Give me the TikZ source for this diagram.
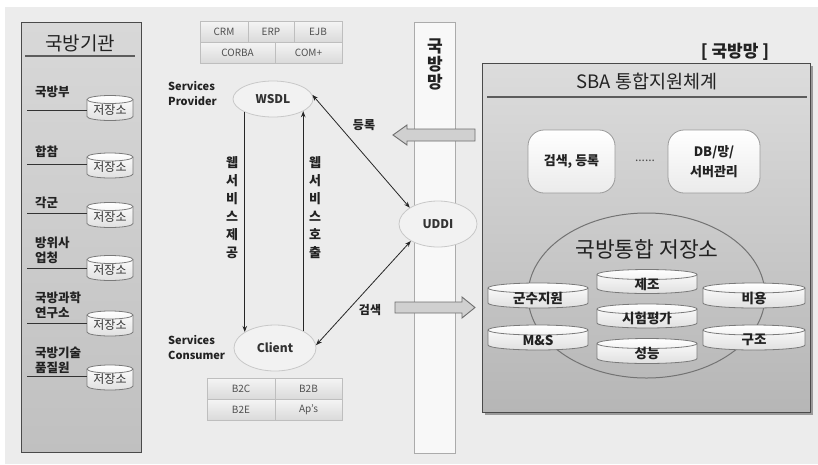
\documentclass[tikz,border=0pt]{standalone}
\usepackage{fontspec}
\setmainfont{Noto Sans CJK KR}
\usetikzlibrary{shapes.geometric,arrows.meta,calc}
\definecolor{bgc}{HTML}{ECECEC}
\definecolor{paneltop}{HTML}{D8D8D8}
\definecolor{panelbot}{HTML}{C0C0C0}
\definecolor{panelb}{HTML}{4A4A4A}
\definecolor{rpaneltop}{HTML}{DCDCDC}
\definecolor{rpanelbot}{HTML}{B6B6B6}
\definecolor{cellb}{HTML}{BEBEBE}
\definecolor{cellbot}{HTML}{DADADA}
\definecolor{celltext}{HTML}{505050}
\definecolor{ovalb}{HTML}{C8C8C8}
\definecolor{ovalf}{HTML}{F2F2F2}
\definecolor{cylb}{HTML}{7A7A7A}
\definecolor{cylbot}{HTML}{E0E0E0}
\definecolor{txt}{HTML}{222222}
\definecolor{barf}{HTML}{F8F8F8}
\definecolor{barb}{HTML}{ABABAB}
\definecolor{blkf}{HTML}{D0D0D0}
\definecolor{blkb}{HTML}{6E6E6E}
\definecolor{rboxb}{HTML}{9A9A9A}
\definecolor{shadowc}{HTML}{9A9A9A}

\newcommand{\dbcyl}[9]{%
  \pgfmathsetmacro\dbxl{#2-#4/2}%
  \pgfmathsetmacro\dbxr{#2+#4/2}%
  \pgfmathsetmacro\dbyt{#3-#5/2+#6}%
  \pgfmathsetmacro\dbyb{#3+#5/2-#6}%
  \pgfmathsetmacro\dbrx{#4/2}%
  \path[#7] (\dbxl,\dbyt) -- (\dbxl,\dbyb)
    arc[start angle=180,end angle=360,x radius=\dbrx pt,y radius=#6pt]
    -- (\dbxr,\dbyt)
    arc[start angle=0,end angle=180,x radius=\dbrx pt,y radius=#6pt] -- cycle;
  \draw[cyledge] (\dbxl,\dbyt) arc[start angle=180,end angle=360,x radius=\dbrx pt,y radius=#6pt];
  \node[inner sep=0pt,minimum width=#4,minimum height=#5] (#1) at (#2,#3) {};
  \node[#8] (#1t) at (#2,#3+#6/2) {#9};
}

\begin{document}
\begin{tikzpicture}[x=1pt,y=-1pt,
  panel/.style={draw=panelb,line width=1.2pt,top color=paneltop,bottom color=panelbot,inner sep=0pt,anchor=north west},
  rpanel/.style={draw=panelb,line width=1.3pt,top color=rpaneltop,bottom color=rpanelbot,inner sep=0pt,anchor=north west},
  uline/.style={draw=panelb!90,line width=1.4pt},
  lbl/.style={font=\bfseries\fontsize{12.5}{15}\selectfont,text=txt,inner sep=0pt,anchor=west,align=left},
  itemline/.style={draw=black!80,line width=1pt},
  lcyl/.style={draw=cylb,line width=0.8pt,top color=white,bottom color=cylbot},
  cyledge/.style={draw=cylb,line width=0.8pt},
  lcyltext/.style={font=\fontsize{12}{13}\selectfont,text=black!80,inner sep=0pt},
  rcyltext/.style={font=\bfseries\fontsize{13.5}{14}\selectfont,text=txt,inner sep=0pt},
  cell/.style={draw=cellb,line width=0.7pt,top color=white!96!black,bottom color=cellbot,font=\fontsize{10}{12}\selectfont,text=celltext,inner sep=0pt,minimum height=21},
  oval/.style={ellipse,draw=ovalb,line width=0.8pt,fill=ovalf,font=\bfseries\fontsize{12}{14}\selectfont,text=black!80,inner sep=0pt},
  arr/.style={draw=black!85,line width=0.8pt,-{Stealth[length=6pt,width=4.5pt]}},
  arrb/.style={draw=black!85,line width=0.8pt,{Stealth[length=6pt,width=4.5pt]}-{Stealth[length=6pt,width=4.5pt]}},
  vtxt/.style={font=\bfseries\fontsize{13}{18}\selectfont,text=txt,align=center,inner sep=0pt},
  side/.style={font=\bfseries\fontsize{11}{15}\selectfont,text=txt,align=left,inner sep=0pt,anchor=west},
  blk/.style={draw=blkb,line width=0.9pt,fill=blkf,line join=miter},
  rbox/.style={draw=rboxb,line width=0.8pt,rounded corners=16pt,top color=white,bottom color=black!8,font=\bfseries\fontsize{13}{20}\selectfont,text=txt,align=center,inner sep=0pt}
]
\useasboundingbox (0,0) rectangle (818,464);
\fill[white] (0,0) rectangle (818,464);
\fill[bgc] (5,7) rectangle (818,464);

% ---------- left panel ----------
\node[panel,minimum width=120,minimum height=430] (lp) at (21,22) {};
\node[font=\fontsize{19}{21}\selectfont,text=txt] (lptitle) at (80,43) {국방기관};
\coordinate (lu1) at (25,56);
\coordinate (lu2) at (135,56);
\draw[uline] (lu1) -- (lu2);

\node[lbl] (l1) at (35,92) {국방부};
\node[lbl] (l2) at (35,152) {합참};
\node[lbl] (l3) at (35,203) {각군};
\node[lbl] (l4) at (35,250) {방위사\\업청};
\node[lbl] (l5) at (35,305) {국방과학\\연구소};
\node[lbl] (l6) at (35,360) {국방기술\\품질원};

\dbcyl{c1}{110}{108}{46}{25}{4}{lcyl}{lcyltext}{저장소}
\dbcyl{c2}{110}{165.5}{46}{25}{4}{lcyl}{lcyltext}{저장소}
\dbcyl{c3}{110}{215}{46}{25}{4}{lcyl}{lcyltext}{저장소}
\dbcyl{c4}{110}{268}{46}{25}{4}{lcyl}{lcyltext}{저장소}
\dbcyl{c5}{110}{323.5}{46}{25}{4}{lcyl}{lcyltext}{저장소}
\dbcyl{c6}{110}{377.5}{46}{25}{4}{lcyl}{lcyltext}{저장소}

\coordinate (s1) at (27,110);
\coordinate (s2) at (27,164);
\coordinate (s3) at (27,213);
\coordinate (s4) at (27,268);
\coordinate (s5) at (27,323);
\coordinate (s6) at (27,376);
\foreach \i in {1,...,6}{\draw[itemline] (s\i) -- (s\i -| c\i.west);}

% ---------- middle ----------
\node[cell,minimum width=48] (crm) at (224,31.5) {CRM};
\node[cell,minimum width=46] (erp) at (271,31.5) {ERP};
\node[cell,minimum width=48] (ejb) at (318,31.5) {EJB};
\node[cell,minimum width=75] (corba) at (237.5,52.5) {CORBA};
\node[cell,minimum width=67] (com) at (308.5,52.5) {COM+};

\node[cell,minimum width=68] (b2c) at (241,388.5) {B2C};
\node[cell,minimum width=67] (b2b) at (308.5,388.5) {B2B};
\node[cell,minimum width=68] (b2e) at (241,409.5) {B2E};
\node[cell,minimum width=67] (aps) at (308.5,409.5) {Ap's};

\node[side] (prov) at (168,93.5) {Services\\Provider};
\node[side] (cons) at (168,347.5) {Services\\Consumer};

% network bar
\node[draw=barb,line width=0.8pt,fill=barf,inner sep=0pt,anchor=north west,minimum width=41,minimum height=431] (net) at (414,22) {};
\node[font=\bfseries\fontsize{17}{18}\selectfont,text=txt,align=center,inner sep=0pt] (nettxt) at (435,64.5) {국\\방\\망};

\node[oval,minimum width=80,minimum height=36] (wsdl) at (273,99) {WSDL};
\node[oval,minimum width=82,minimum height=46] (client) at (275,348) {Client};
\node[oval,minimum width=78,minimum height=46] (uddi) at (438,224) {UDDI};

\draw[arr] (wsdl.205) -- (wsdl.205 |- client.152);
\draw[arr] (wsdl.338 |- client.31) -- (wsdl.338);
\draw[arrb] (wsdl.6) -- (uddi.150);
\draw[arrb] (client.4) -- (uddi.212);

\node[vtxt] (t1) at (232,208) {웹\\서\\비\\스\\제\\공};
\node[vtxt] (t2) at (315,208) {웹\\서\\비\\스\\호\\출};

\node[font=\bfseries\fontsize{12}{14}\selectfont,text=txt] (reg) at (364,125) {등록};
\node[font=\bfseries\fontsize{12}{14}\selectfont,text=txt] (srchl) at (370,310) {검색};

% block arrows
\draw[blk] (475,129) -- (407,129) -- (407,125) -- (393,135) -- (407,145) -- (407,141) -- (475,141) -- cycle;
\draw[blk] (395,302) -- (462,302) -- (462,297) -- (475,307.5) -- (462,318) -- (462,313) -- (395,313) -- cycle;

% ---------- right panel ----------
\node[font=\bfseries\fontsize{17}{18}\selectfont,text=txt] (rtitle) at (735,52) {[ 국방망 ]};
\fill[shadowc] (485,66) rectangle (813,415);
\node[rpanel,minimum width=328,minimum height=349] (rp) at (482,63) {};
\node[font=\fontsize{18.5}{20}\selectfont,text=txt] (sba) at (647,81) {SBA 통합지원체계};
\coordinate (ru1) at (487,97);
\coordinate (ru2) at (807,97);
\draw[uline] (ru1) -- (ru2);

\node[rbox,minimum width=87,minimum height=63] (srch) at (571.5,161.5) {검색, 등록};
\node[font=\fontsize{12}{14}\selectfont,text=black!70] (dots) at (645,161) {......};
\node[rbox,minimum width=92,minimum height=63] (dbm) at (714,161.5) {DB/망/\\서버관리};

\node[ellipse,draw=black!55,line width=1pt,minimum width=237,minimum height=165,inner sep=0pt] (store) at (646.5,295.5) {};
\node[font=\fontsize{21.5}{23}\selectfont,text=txt] (storet) at (647,249) {국방통합 저장소};

\dbcyl{r1}{538}{295.5}{100}{25}{5}{lcyl}{rcyltext}{군수지원}
\dbcyl{r2}{538}{337.5}{100}{25}{5}{lcyl}{rcyltext}{M\&S}
\dbcyl{r3}{647}{281.5}{100}{24}{5}{lcyl}{rcyltext}{제조}
\dbcyl{r4}{647}{316}{100}{24}{5}{lcyl}{rcyltext}{시험평가}
\dbcyl{r5}{647}{351}{100}{25}{5}{lcyl}{rcyltext}{성능}
\dbcyl{r6}{754}{295.5}{102}{25}{5}{lcyl}{rcyltext}{비용}
\dbcyl{r7}{754}{337.5}{102}{25}{5}{lcyl}{rcyltext}{구조}
\end{tikzpicture}
\end{document}
